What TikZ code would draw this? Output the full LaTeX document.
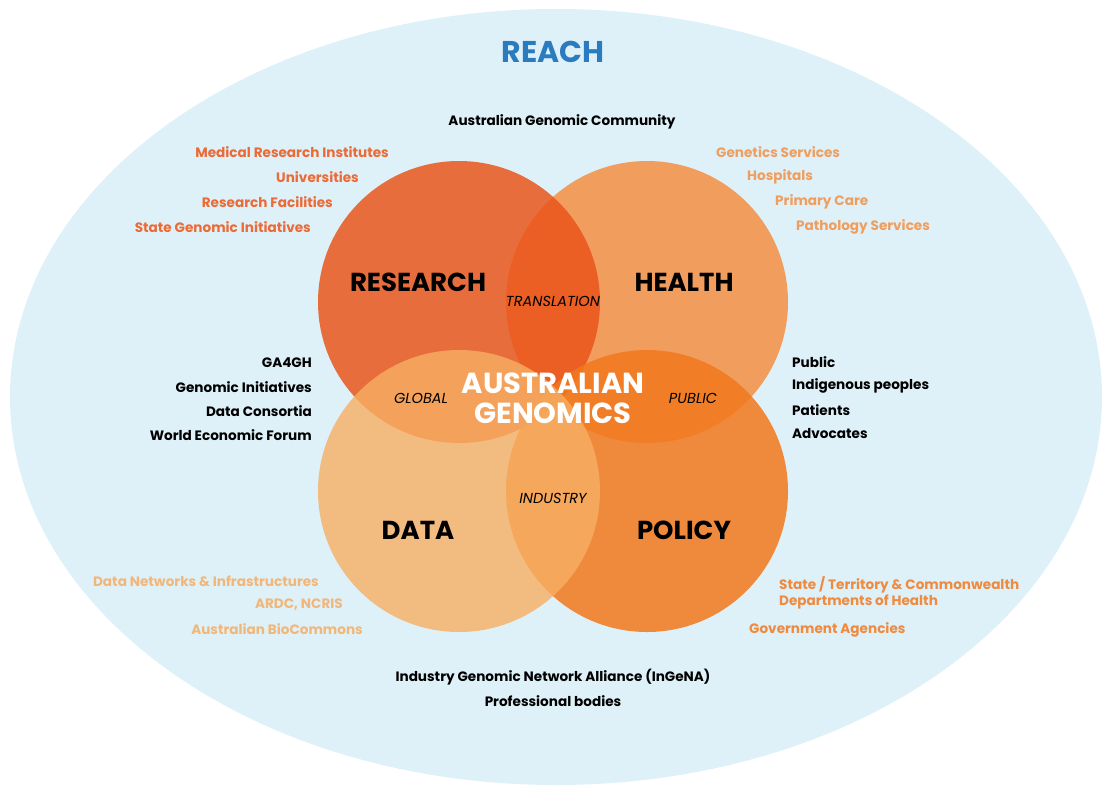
\documentclass[tikz,border=0pt]{standalone}
\usepackage{fontspec}
\setmainfont{Poppins}
\definecolor{reachbg}{RGB}{222,241,249}
\definecolor{reachblue}{RGB}{43,123,191}
\definecolor{researchc}{RGB}{235,84,26}
\definecolor{healthc}{RGB}{245,137,56}
\definecolor{policyc}{RGB}{242,120,29}
\definecolor{datac}{RGB}{247,175,99}
\definecolor{researchtxt}{RGB}{235,106,53}
\definecolor{healthtxt}{RGB}{240,158,94}
\definecolor{datatxt}{RGB}{242,183,120}
\definecolor{policytxt}{RGB}{239,138,62}
\tikzset{
  item/.style={inner sep=0pt, font=\bfseries\fontsize{13.6}{16}\selectfont},
  ring/.style={inner sep=0pt, font=\bfseries\fontsize{26}{30}\selectfont},
  link/.style={inner sep=0pt, font=\itshape\fontsize{14.5}{16}\selectfont},
}
\begin{document}
\begin{tikzpicture}[x=1pt,y=-1pt]
    \useasboundingbox (0,0) rectangle (1102,785);
    \fill[reachbg] (556,397) ellipse (546pt and 388pt);
    % the four circles
    \fill[healthc, fill opacity=0.8] (647,302) circle (141pt);
    \fill[researchc, fill opacity=0.84] (459,302) circle (141pt);
    \fill[policyc, fill opacity=0.85] (647,491) circle (141pt);
    \fill[datac, fill opacity=0.8] (459,491) circle (141pt);
    \node[inner sep=0pt, text=reachblue, font=\bfseries\fontsize{30}{34}\selectfont] (reach) at (553,52) {REACH};
    \node[item] (community) at (562,122) {Australian Genomic Community};
    % research side
    \node[item, text=researchtxt, anchor=east] (mri) at (389,152) {Medical Research Institutes};
    \node[item, text=researchtxt, anchor=east] (uni) at (359,177) {Universities};
    \node[item, text=researchtxt, anchor=east] (facil) at (333,202) {Research Facilities};
    \node[item, text=researchtxt, anchor=east] (sgi) at (311,227) {State Genomic Initiatives};
    % health side
    \node[item, text=healthtxt, anchor=west] (genserv) at (716,152) {Genetics Services};
    \node[item, text=healthtxt, anchor=west] (hosp) at (747,177) {Hospitals};
    \node[item, text=healthtxt, anchor=west] (primary) at (775,202) {Primary Care};
    \node[item, text=healthtxt, anchor=west] (patho) at (796,227) {Pathology Services};
    % global
    \foreach \name/\y/\txt in {ga/363/GA4GH, gi/387/Genomic Initiatives, dc/411/Data Consortia, wef/435/World Economic Forum}
        \node[item, anchor=east] (\name) at (312,\y) {\txt};
    % public
    \foreach \name/\y/\txt in {pub/362/Public, indig/386/Indigenous peoples, pat/410/Patients, adv/434/Advocates}
        \node[item, anchor=west] (\name) at (792,\y) {\txt};
    % circle labels
    \node[ring] (research) at (418,282) {RESEARCH};
    \node[ring] (health) at (684,282) {HEALTH};
    \node[ring] (data) at (418,530) {DATA};
    \node[ring] (policy) at (684,530) {POLICY};
    \node[link] (translation) at (553,301) {TRANSLATION};
    \node[link] (global) at (421,398) {GLOBAL};
    \node[link] (public) at (693,398) {PUBLIC};
    \node[link] (industry) at (553,498) {INDUSTRY};
    \node[inner sep=0pt, text=white, align=center, font=\bfseries\fontsize{29}{30}\selectfont] (ag) at (553,398) {AUSTRALIAN\\GENOMICS};
    % data side
    \node[item, text=datatxt, anchor=east] (dni) at (319,581) {Data Networks \& Infrastructures};
    \node[item, text=datatxt, anchor=east] (ardc) at (343,605) {ARDC, NCRIS};
    \node[item, text=datatxt, anchor=east] (bioc) at (363,629) {Australian BioCommons};
    % policy side
    \node[item, text=policytxt, anchor=west, align=left] (depts) at (779,593) {State / Territory \& Commonwealth\\Departments of Health};
    \node[item, text=policytxt, anchor=west] (gov) at (749,630) {Government Agencies};
    % industry
    \node[item] (ingena) at (553,677) {Industry Genomic Network Alliance (InGeNA)};
    \node[item] (prof) at (553,701) {Professional bodies};
\end{tikzpicture}
\end{document}
